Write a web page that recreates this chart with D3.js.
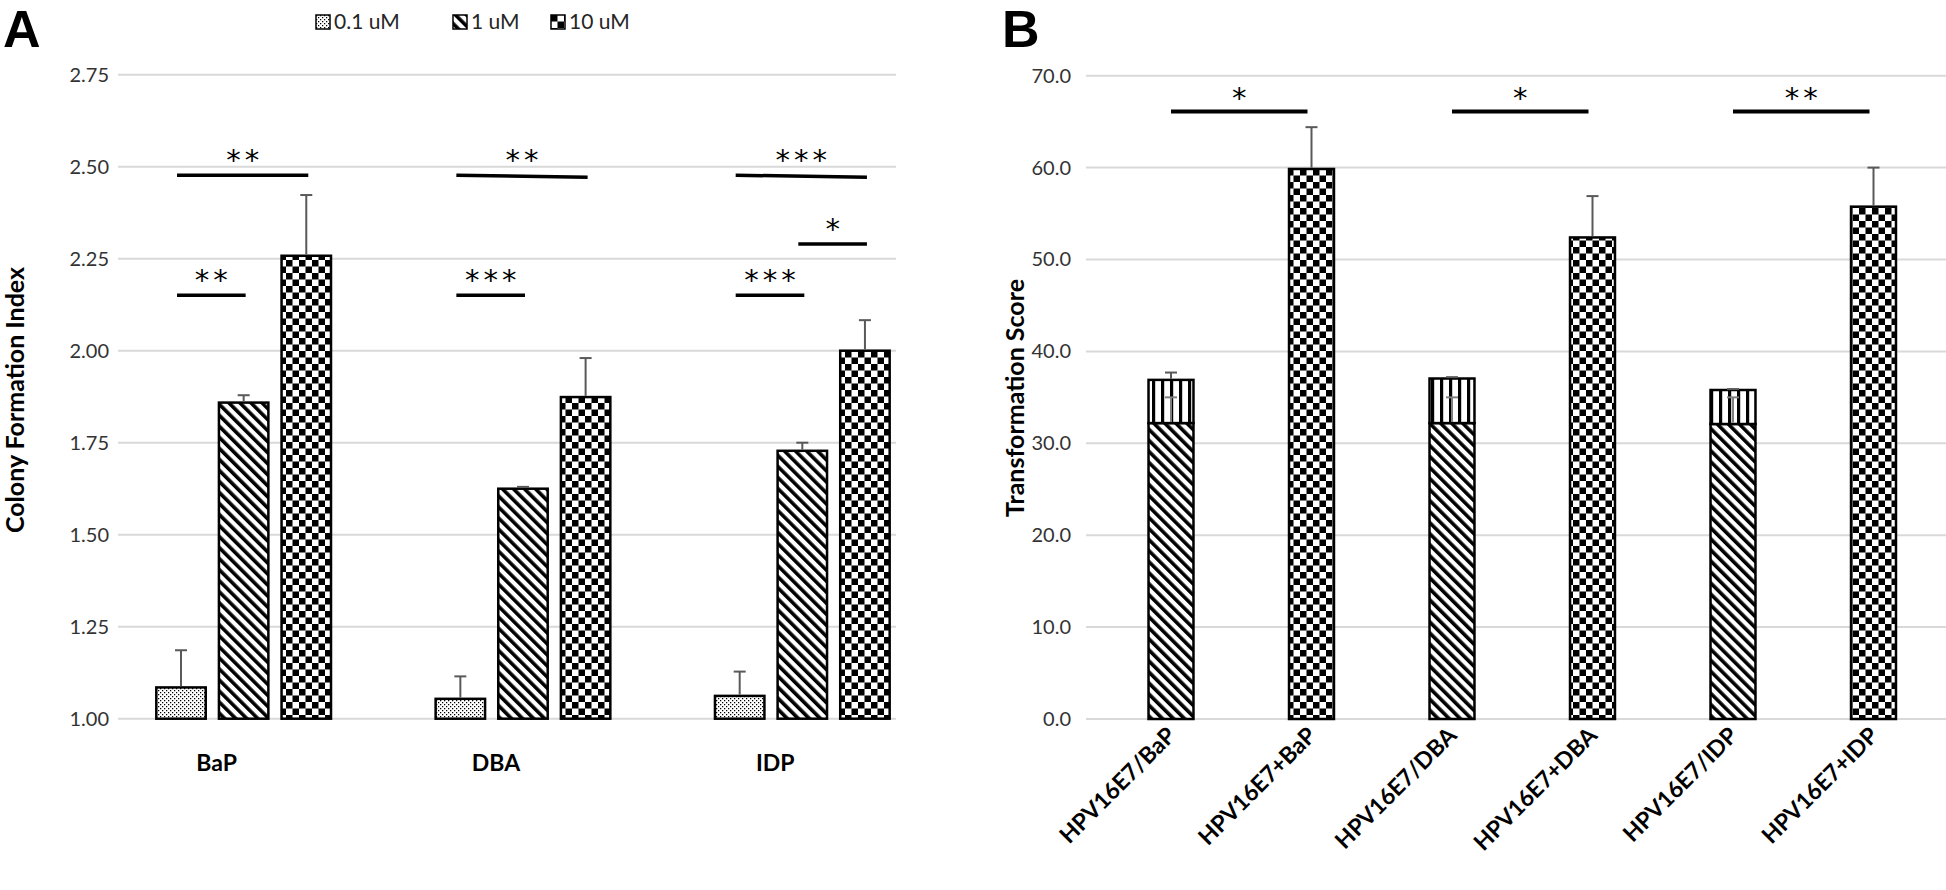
<!DOCTYPE html>
<html><head><meta charset="utf-8">
<script src="https://cdn.jsdelivr.net/npm/d3@7"></script>
<style>body{margin:0;background:#fff} svg{display:block}</style>
</head><body>
<svg id="c" width="1946" height="890"></svg>
<script>
// ---------- DATA ----------
const categoriesA = ["BaP", "DBA", "IDP"];
const seriesA = ["0.1 uM", "1 uM", "10 uM"];
const ticksA = [1.00, 1.25, 1.50, 1.75, 2.00, 2.25, 2.50, 2.75];
const values01 = [1.085, 1.054, 1.062];
const values1 = [1.859, 1.625, 1.728];
const values10 = [2.258, 1.874, 2.000];
const errors01 = [0.101, 0.061, 0.066];
const errors1 = [0.020, 0.005, 0.022];
const errors10 = [0.165, 0.106, 0.083];
// significance brackets in panel A: category, from series, to series, level (start,end), label
const sigCatA = ["BaP", "BaP", "DBA", "DBA", "IDP", "IDP", "IDP"];
const sigFromA = [0, 0, 0, 0, 0, 1, 0];
const sigToA = [2, 1, 2, 1, 2, 2, 1];
const sigY1A = [2.477, 2.151, 2.477, 2.151, 2.477, 2.290, 2.151];
const sigY2A = [2.477, 2.151, 2.471, 2.151, 2.471, 2.290, 2.151];
const sigLabelA = ["**", "**", "**", "***", "***", "*", "***"];

const categoriesB = ["HPV16E7/BaP", "HPV16E7+BaP", "HPV16E7/DBA", "HPV16E7+DBA", "HPV16E7/IDP", "HPV16E7+IDP"];
const ticksB = [0, 10, 20, 30, 40, 50, 60, 70];
const hpvScoreB = [32.2, 0, 32.2, 0, 32.1, 0];
const chemScoreB = [4.7, 0, 4.85, 0, 3.7, 0];
const combScoreB = [0, 59.85, 0, 52.4, 0, 55.75];
const hpvErrB = [2.8, 0, 2.8, 0, 2.9, 0];
const sumErrB = [0.8, 0, 0.15, 0, 0.1, 0];
const combErrB = [0, 4.55, 0, 4.5, 0, 4.25];
const sigFromB = ["HPV16E7/BaP", "HPV16E7/DBA", "HPV16E7/IDP"];
const sigToB = ["HPV16E7+BaP", "HPV16E7+DBA", "HPV16E7+IDP"];
const sigYB = [66.1, 66.1, 66.1];
const sigLabelB = ["*", "*", "**"];

// ---------- SETUP ----------
const svg = d3.select("#c");
const FONT = "Lato, 'Open Sans', sans-serif";
const defs = svg.append("defs");

function pat(id, w, h, transform) {
  const p = defs.append("pattern").attr("id", id).attr("patternUnits", "userSpaceOnUse")
    .attr("width", w).attr("height", h);
  if (transform) p.attr("patternTransform", transform);
  p.append("rect").attr("width", w).attr("height", h).attr("fill", "#fff");
  return p;
}
const pDots = pat("dots", 4, 4);
pDots.append("rect").attr("x", 0).attr("y", 0).attr("width", 1.25).attr("height", 1.25).attr("fill", "#000");
pDots.append("rect").attr("x", 2).attr("y", 2).attr("width", 1.25).attr("height", 1.25).attr("fill", "#000");
const pDiag = pat("diag", 7.8, 7.8, "rotate(-45)");
pDiag.append("rect").attr("x", 0).attr("y", 0).attr("width", 3.6).attr("height", 7.8).attr("fill", "#000");
const pVert = pat("vert", 9, 9);
pVert.append("rect").attr("x", 0).attr("y", 0).attr("width", 3.2).attr("height", 9).attr("fill", "#000");
const pCheck = pat("check", 13, 13);
pCheck.append("rect").attr("x", 0).attr("y", 0).attr("width", 6.5).attr("height", 6.5).attr("fill", "#000");
pCheck.append("rect").attr("x", 6.5).attr("y", 6.5).attr("width", 6.5).attr("height", 6.5).attr("fill", "#000");

const fillA = {"0.1 uM": "url(#dots)", "1 uM": "url(#diag)", "10 uM": "url(#check)"};
const GRID = "#d9d9d9";
const ERR = "#595959";

// ---------- PANEL A ----------
const xA = d3.scaleBand().domain(categoriesA).range([104, 942]);
const xsA = d3.scaleBand().domain(seriesA).range([52.3, 227]).paddingInner(0.2105);
const yA = d3.scaleLinear().domain([1, 2.75]).range([718.7, 74.7]);

const gA = svg.append("g");
gA.append("g").selectAll("line").data(ticksA).join("line")
  .attr("x1", 118).attr("x2", 896).attr("y1", d => yA(d)).attr("y2", d => yA(d))
  .attr("stroke", GRID).attr("stroke-width", 2);
const axA = gA.append("g").attr("transform", "translate(112,0)")
  .call(d3.axisLeft(yA).tickValues(ticksA).tickFormat(d3.format(".2f")).tickSize(0));
axA.select(".domain").remove();
axA.selectAll("text").attr("font-family", FONT).attr("font-size", 20).attr("fill", "#333");

const rowsA = [];
categoriesA.forEach((c, i) => {
  [values01, values1, values10].forEach((arr, j) => {
    const e = [errors01, errors1, errors10][j][i];
    rowsA.push({cat: c, ser: seriesA[j], v: arr[i], e: e});
  });
});
const barA = gA.append("g").selectAll("g").data(rowsA).join("g");
barA.append("rect")
  .attr("x", d => xA(d.cat) + xsA(d.ser)).attr("width", xsA.bandwidth())
  .attr("y", d => yA(d.v)).attr("height", d => yA(1) - yA(d.v))
  .attr("fill", d => fillA[d.ser]).attr("stroke", "#000").attr("stroke-width", 2.5);
barA.append("line")
  .attr("x1", d => xA(d.cat) + xsA(d.ser) + xsA.bandwidth() / 2)
  .attr("x2", d => xA(d.cat) + xsA(d.ser) + xsA.bandwidth() / 2)
  .attr("y1", d => yA(d.v) - 1.2).attr("y2", d => yA(d.v + d.e))
  .attr("stroke", ERR).attr("stroke-width", 2);
barA.append("line")
  .attr("x1", d => xA(d.cat) + xsA(d.ser) + xsA.bandwidth() / 2 - 6)
  .attr("x2", d => xA(d.cat) + xsA(d.ser) + xsA.bandwidth() / 2 + 6)
  .attr("y1", d => yA(d.v + d.e)).attr("y2", d => yA(d.v + d.e))
  .attr("stroke", ERR).attr("stroke-width", 2);

// category labels
gA.append("g").selectAll("text").data(categoriesA).join("text")
  .attr("x", d => xA(d) + xA.bandwidth() / 2 - 27).attr("y", 771)
  .attr("text-anchor", "middle").attr("font-family", FONT).attr("font-weight", 700)
  .attr("font-size", 23).attr("fill", "#000").text(d => d);

// significance A
const sigA = sigCatA.map((c, i) => ({c, f: seriesA[sigFromA[i]], t: seriesA[sigToA[i]], y1: sigY1A[i], y2: sigY2A[i], l: sigLabelA[i]}));
const cx = (c, s) => xA(c) + xsA(s) + xsA.bandwidth() / 2;
const sgA = gA.append("g").selectAll("g").data(sigA).join("g");
sgA.append("line")
  .attr("x1", d => cx(d.c, d.f) - 4).attr("x2", d => cx(d.c, d.t) + 2)
  .attr("y1", d => yA(d.y1)).attr("y2", d => yA(d.y2))
  .attr("stroke", "#000").attr("stroke-width", 3.5);
sgA.append("text")
  .attr("x", d => (cx(d.c, d.f) + cx(d.c, d.t)) / 2 + 1).attr("y", d => yA(d.y1) - 5)
  .attr("text-anchor", "middle").attr("font-family", "'DejaVu Sans', sans-serif")
  .attr("font-size", 29).attr("letter-spacing", 4).text(d => d.l);

// axis title
gA.append("text").attr("transform", "translate(24,400) rotate(-90)")
  .attr("text-anchor", "middle").attr("font-family", FONT).attr("font-weight", 700)
  .attr("font-size", 25).text("Colony Formation Index");

// legend
const lg = gA.append("g").selectAll("g").data(seriesA).join("g")
  .attr("transform", (d, i) => `translate(${[316, 453, 551][i]},15)`);
lg.append("rect").attr("width", 14).attr("height", 14).attr("fill", d => fillA[d])
  .attr("stroke", "#000").attr("stroke-width", 1.5);
lg.append("text").attr("x", 18).attr("y", 14).attr("font-family", FONT).attr("font-size", 21)
  .attr("fill", "#262626").text(d => d);

// panel label
svg.append("text").attr("x", 3).attr("y", 47).attr("font-family", "'Liberation Sans', Arial, sans-serif")
  .attr("font-weight", 700).attr("font-size", 52).text("A");

// ---------- PANEL B ----------
const xB = d3.scaleBand().domain(categoriesB).range([1100.75, 1943.75]).paddingInner(0.68).paddingOuter(0.34);
const yB = d3.scaleLinear().domain([0, 70]).range([719, 75.7]);
const gB = svg.append("g");
gB.append("g").selectAll("line").data(ticksB).join("line")
  .attr("x1", 1086).attr("x2", 1946).attr("y1", d => yB(d)).attr("y2", d => yB(d))
  .attr("stroke", GRID).attr("stroke-width", 2);
const axB = gB.append("g").attr("transform", "translate(1074,0)")
  .call(d3.axisLeft(yB).tickValues(ticksB).tickFormat(d3.format(".1f")).tickSize(0));
axB.select(".domain").remove();
axB.selectAll("text").attr("font-family", FONT).attr("font-size", 20).attr("fill", "#333");

const rowsB = categoriesB.map((c, i) => ({c, h: hpvScoreB[i], s: chemScoreB[i], m: combScoreB[i], he: hpvErrB[i], se: sumErrB[i], me: combErrB[i]}));
const bw = xB.bandwidth();
const bB = gB.append("g").selectAll("g").data(rowsB).join("g");
bB.filter(d => d.h > 0).append("rect")
  .attr("x", d => xB(d.c)).attr("width", bw).attr("y", d => yB(d.h)).attr("height", d => yB(0) - yB(d.h))
  .attr("fill", "url(#diag)").attr("stroke", "#000").attr("stroke-width", 2.5);
bB.filter(d => d.s > 0).append("rect")
  .attr("x", d => xB(d.c)).attr("width", bw).attr("y", d => yB(d.h + d.s)).attr("height", d => yB(d.h) - yB(d.h + d.s))
  .attr("fill", "url(#vert)").attr("stroke", "#000").attr("stroke-width", 2.5);
bB.filter(d => d.m > 0).append("rect")
  .attr("x", d => xB(d.c)).attr("width", bw).attr("y", d => yB(d.m)).attr("height", d => yB(0) - yB(d.m))
  .attr("fill", "url(#check)").attr("stroke", "#000").attr("stroke-width", 2.5);
function errBar(sel, base, top, col) {
  sel.append("line").attr("x1", d => xB(d.c) + bw / 2).attr("x2", d => xB(d.c) + bw / 2)
    .attr("y1", d => yB(base(d)) - 1.2).attr("y2", d => yB(top(d))).attr("stroke", col).attr("stroke-width", 2);
  sel.append("line").attr("x1", d => xB(d.c) + bw / 2 - 6).attr("x2", d => xB(d.c) + bw / 2 + 6)
    .attr("y1", d => yB(top(d))).attr("y2", d => yB(top(d))).attr("stroke", col).attr("stroke-width", 2);
}
errBar(bB.filter(d => d.h > 0), d => d.h, d => d.h + d.he, "#7f7f7f");
errBar(bB.filter(d => d.s > 0), d => d.h + d.s, d => d.h + d.s + d.se, ERR);
errBar(bB.filter(d => d.m > 0), d => d.m, d => d.m + d.me, ERR);

gB.append("g").selectAll("text").data(categoriesB).join("text")
  .attr("transform", d => `translate(${xB(d) + bw / 2 + 6},737) rotate(-45)`)
  .attr("text-anchor", "end").attr("font-family", FONT).attr("font-weight", 700)
  .attr("font-size", 23).text(d => d);

const sgB = gB.append("g").selectAll("g").data(sigFromB.map((f, i) => ({f, t: sigToB[i], y: sigYB[i], l: sigLabelB[i]}))).join("g");
sgB.append("line").attr("x1", d => xB(d.f) + bw / 2).attr("x2", d => xB(d.t) + bw / 2 - 4)
  .attr("y1", d => yB(d.y)).attr("y2", d => yB(d.y)).attr("stroke", "#000").attr("stroke-width", 4);
sgB.append("text").attr("x", d => (xB(d.f) + xB(d.t) + bw) / 2).attr("y", d => yB(d.y) - 4)
  .attr("text-anchor", "middle").attr("font-family", "'DejaVu Sans', sans-serif")
  .attr("font-size", 29).attr("letter-spacing", 4).text(d => d.l);

gB.append("text").attr("transform", "translate(1024,398) rotate(-90)")
  .attr("text-anchor", "middle").attr("font-family", FONT).attr("font-weight", 700)
  .attr("font-size", 25).text("Transformation Score");

svg.append("text").attr("x", 1002).attr("y", 47).attr("font-family", "'Liberation Sans', Arial, sans-serif")
  .attr("font-weight", 700).attr("font-size", 52).text("B");
</script>
</body></html>
